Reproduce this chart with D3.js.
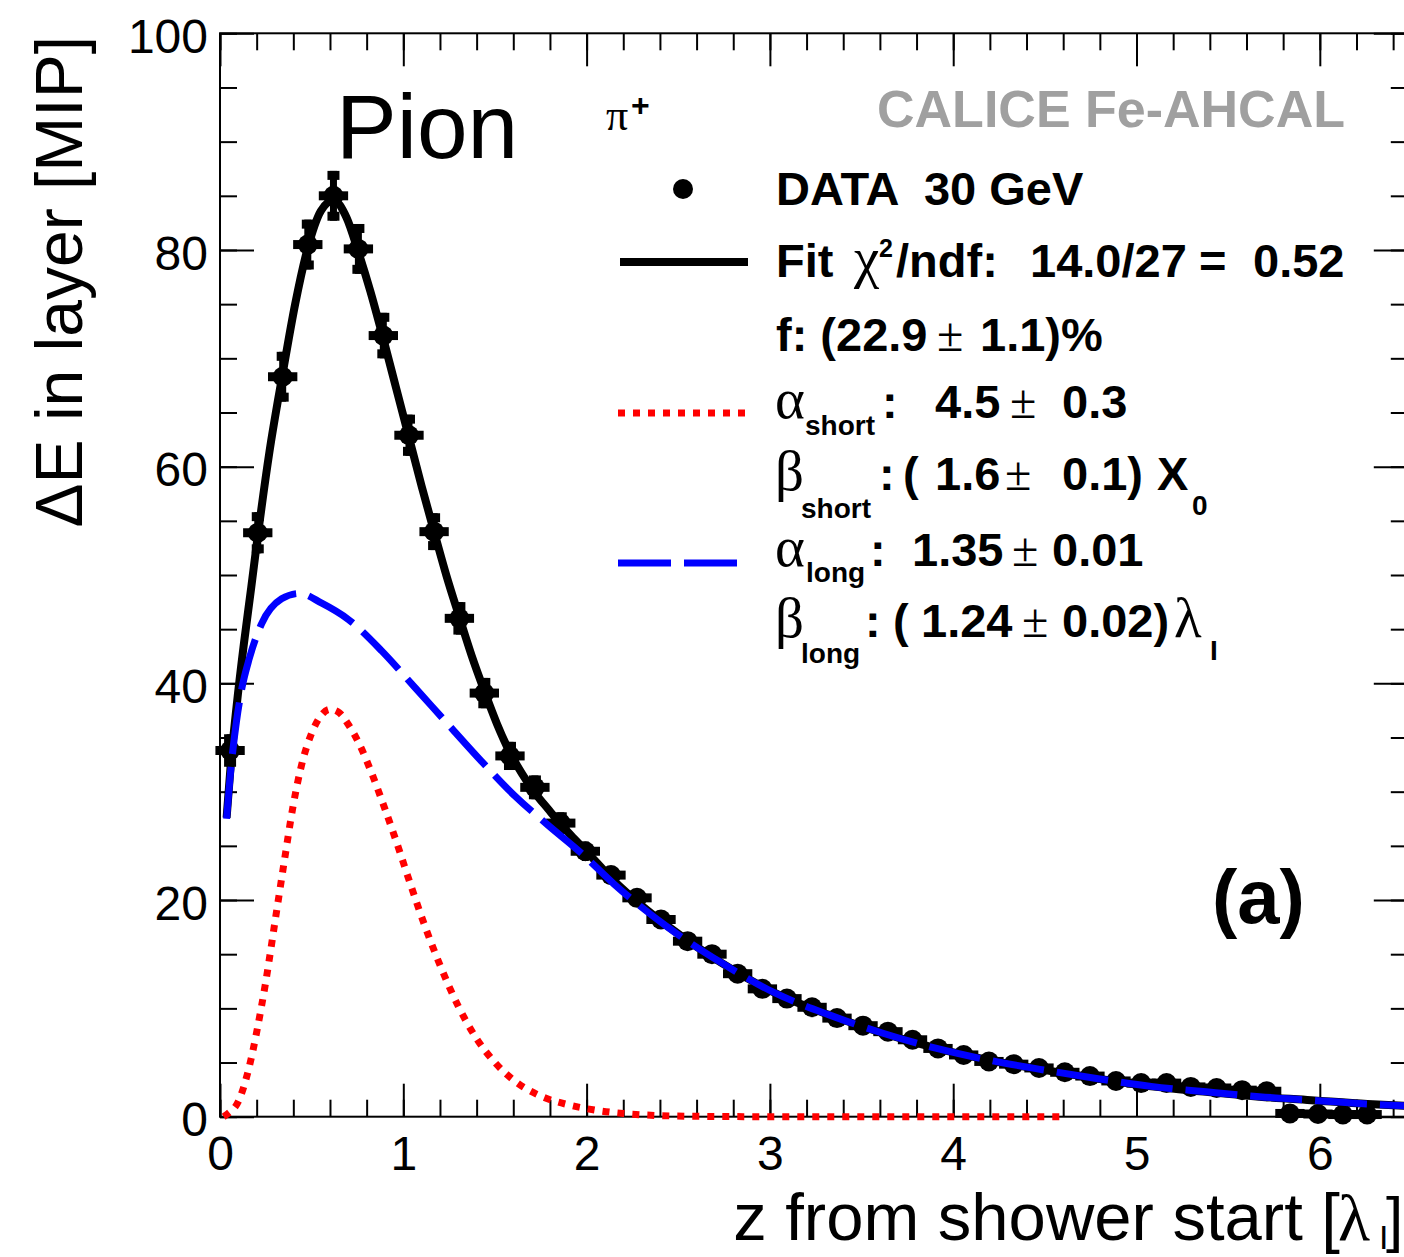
<!DOCTYPE html>
<html>
<head>
<meta charset="utf-8">
<script src="https://cdn.jsdelivr.net/npm/d3@7"></script>
<style>
  body { margin: 0; background: #fff; }
  text { white-space: pre; }
</style>
</head>
<body>
<svg id="chart"></svg>
<script>
// ---- data ----
// layer position from shower start [lambda_I] and energy per layer [MIP]
const layerZ = [0.055, 0.206, 0.342, 0.479, 0.619, 0.755, 0.891, 1.031, 1.168, 1.306,
  1.442, 1.582, 1.718, 1.859, 1.993, 2.133, 2.275, 2.406, 2.551, 2.684,
  2.824, 2.959, 3.093, 3.230, 3.366, 3.508, 3.644, 3.778, 3.917, 4.057,
  4.195, 4.330, 4.468, 4.609, 4.746, 4.888, 5.025, 5.164, 5.296, 5.437,
  5.576, 5.710, 5.837, 5.990, 6.126, 6.258];
const layerE = [33.8, 53.9, 68.3, 80.5, 85.0, 80.1, 72.1, 62.9, 54.0, 46.0,
  39.1, 33.3, 30.4, 27.1, 24.5, 22.3, 20.2, 18.2, 16.2, 15.0,
  13.2, 11.8, 10.9, 10.1, 9.1, 8.4, 7.85, 7.1, 6.3, 5.7,
  5.1, 4.85, 4.5, 4.1, 3.75, 3.3, 3.1, 3.1, 2.75, 2.65,
  2.45, 2.35, 0.3, 0.25, 0.2, 0.2];
const layerErr = [1.5, 1.9, 2.3, 2.3, 2.3, 2.3, 2.1, 1.9, 1.7, 1.5,
  1.4, 1.3, 1.1, 1.0, 0.9, 0.85, 0.8, 0.75, 0.7, 0.65,
  0.6, 0.55, 0.5, 0.5, 0.45, 0.45, 0.4, 0.4, 0.4, 0.35,
  0.35, 0.35, 0.3, 0.3, 0.3, 0.3, 0.3, 0.3, 0.3, 0.3,
  0.3, 0.3, 0.2, 0.2, 0.2, 0.2];
const zErr = 0.08;

// fit curves [z, dE]
const fitTotal = [[0.036, 27.6], [0.06, 32.8], [0.09, 37.8], [0.13, 43.6], [0.17, 48.8],
  [0.206, 53.6], [0.27, 61.4], [0.342, 68.6], [0.41, 75.0], [0.479, 80.2], [0.55, 83.6],
  [0.619, 84.6], [0.69, 83.0], [0.755, 79.8], [0.82, 76.2], [0.891, 71.8], [0.96, 67.3],
  [1.031, 62.7], [1.1, 58.2], [1.168, 54.0], [1.236, 49.9], [1.306, 46.1], [1.374, 42.5],
  [1.442, 39.3], [1.51, 36.3], [1.582, 33.6], [1.65, 31.6], [1.718, 29.9], [1.79, 28.4],
  [1.859, 27.0], [1.93, 25.7], [1.993, 24.6], [2.148, 21.8], [2.3, 19.5], [2.442, 17.6],
  [2.736, 14.2], [3.03, 11.4], [3.323, 9.4], [3.617, 7.7], [3.91, 6.3], [4.20, 5.2],
  [4.50, 4.3], [4.79, 3.5], [5.08, 2.8], [5.38, 2.3], [5.67, 1.85], [5.97, 1.5],
  [6.26, 1.17], [6.48, 1.0]];
const fitShort = [[0.02, 0], [0.045, 0.3], [0.1, 1.4], [0.155, 4.3], [0.2, 7.8], [0.25, 12.5],
  [0.3, 18], [0.35, 23.5], [0.4, 28.8], [0.45, 32.8], [0.5, 35.4], [0.55, 37.0], [0.6, 37.6],
  [0.65, 37.3], [0.7, 36.2], [0.76, 34.4], [0.83, 31.6], [0.9, 28.4], [0.97, 25.0],
  [1.04, 21.4], [1.12, 17.5], [1.2, 14.0], [1.3, 10.2], [1.4, 7.2], [1.5, 5.0], [1.6, 3.4],
  [1.75, 1.9], [1.9, 1.1], [2.05, 0.6], [2.2, 0.3], [2.4, 0.1], [2.7, 0.02], [3.0, 0], [4.62, 0]];
const fitLong = [[0.036, 27.5], [0.06, 32.2], [0.09, 36.5], [0.12, 39.6], [0.16, 42.3],
  [0.227, 45.5], [0.336, 47.8], [0.434, 48.3], [0.555, 47.4], [0.70, 45.9], [0.882, 43.0],
  [1.064, 39.6], [1.245, 36.2], [1.427, 32.8], [1.609, 29.6], [1.79, 26.9], [1.973, 24.3],
  [2.148, 21.5], [2.442, 17.5], [2.736, 14.2], [3.03, 11.4], [3.323, 9.4], [3.617, 7.7],
  [3.91, 6.3], [4.20, 5.2], [4.50, 4.3], [4.79, 3.5], [5.08, 2.8], [5.38, 2.3],
  [5.67, 1.85], [5.97, 1.5], [6.26, 1.17], [6.48, 1.0]];

const xTicks = [0, 1, 2, 3, 4, 5, 6];
const yTicks = [0, 20, 40, 60, 80, 100];
const xDomain = [0, 6.48];
const yDomain = [0, 100];

// ---- setup ----
const W = 1404, H = 1257;
const sans = '"Liberation Sans", Arial, Helvetica, sans-serif';
const serif = '"Liberation Serif", "Times New Roman", serif';

const svg = d3.select('#chart').attr('width', W).attr('height', H);
svg.append('rect').attr('width', W).attr('height', H).attr('fill', '#fff');

const x = d3.scaleLinear().domain(xDomain).range([220, 1407.8]);
const y = d3.scaleLinear().domain(yDomain).range([1116.7, 33.3]);

// ---- axes (ticks drawn inward, ROOT style) ----
function addAxis(axis, transform) {
    let g = svg.append('g').attr('transform', transform).call(axis);
    g.select('.domain').remove();
    g.selectAll('line').attr('stroke', '#000').attr('stroke-width', 2);
    g.attr('font-family', sans).attr('font-size', 48);
    g.selectAll('text').attr('fill', '#000');
    return g;
}

const xMinor = d3.range(0, xDomain[1], 0.2);
const yMinor = d3.range(0, 101, 5);

addAxis(d3.axisBottom(x).tickValues(xMinor).tickSize(-17).tickFormat(''), `translate(0,${y(0)})`);
addAxis(d3.axisBottom(x).tickValues(xTicks).tickSize(-33).tickPadding(19).tickFormat(d3.format('d')),
    `translate(0,${y(0)})`);
addAxis(d3.axisTop(x).tickValues(xMinor).tickSize(-17).tickFormat(''), `translate(0,${y(100)})`);
addAxis(d3.axisTop(x).tickValues(xTicks).tickSize(-33).tickFormat(''), `translate(0,${y(100)})`);

addAxis(d3.axisLeft(y).tickValues(yMinor).tickSize(-17).tickFormat(''), `translate(${x(0)},0)`);
addAxis(d3.axisLeft(y).tickValues(yTicks).tickSize(-34).tickPadding(12).tickFormat(d3.format('d')),
    `translate(${x(0)},0)`)
    .selectAll('text').attr('dy', '0.4em');
addAxis(d3.axisRight(y).tickValues(yMinor).tickSize(-17).tickFormat(''), `translate(${x(xDomain[1])},0)`);
addAxis(d3.axisRight(y).tickValues(yTicks).tickSize(-34).tickFormat(''), `translate(${x(xDomain[1])},0)`);

// frame
svg.append('rect')
    .attr('x', x(0)).attr('y', y(100))
    .attr('width', x(xDomain[1]) - x(0)).attr('height', y(0) - y(100))
    .attr('fill', 'none').attr('stroke', '#000').attr('stroke-width', 2);

// ---- data points with error bars ----
const points = layerZ.map((z, i) => ({ z: z, e: layerE[i], err: layerErr[i] }));

const pts = svg.append('g').selectAll('g').data(points).join('g');
pts.append('line')
    .attr('x1', d => x(d.z - zErr)).attr('x2', d => x(d.z + zErr))
    .attr('y1', d => y(d.e)).attr('y2', d => y(d.e))
    .attr('stroke', '#000').attr('stroke-width', 9);
pts.append('line')
    .attr('x1', d => x(d.z)).attr('x2', d => x(d.z))
    .attr('y1', d => y(d.e - d.err)).attr('y2', d => y(d.e + d.err))
    .attr('stroke', '#000').attr('stroke-width', 7);
pts.filter(d => y(d.e - d.err) - y(d.e) > 10).each(function (d) {
    let g = d3.select(this);
    g.append('rect').attr('x', x(d.z) - 6).attr('y', y(d.e + d.err)).attr('width', 12).attr('height', 9);
    g.append('rect').attr('x', x(d.z) - 6).attr('y', y(d.e - d.err) - 9).attr('width', 12).attr('height', 9);
});
pts.append('circle')
    .attr('cx', d => x(d.z)).attr('cy', d => y(d.e)).attr('r', 10).attr('fill', '#000');

// ---- fit curves ----
const line = d3.line().x(d => x(d[0])).y(d => y(d[1])).curve(d3.curveMonotoneX);

svg.append('path').datum(fitTotal).attr('d', line)
    .attr('fill', 'none').attr('stroke', '#000').attr('stroke-width', 8);
svg.append('path').datum(fitShort).attr('d', line)
    .attr('fill', 'none').attr('stroke', '#ff0000').attr('stroke-width', 7)
    .attr('stroke-dasharray', '7 8');
svg.append('path').datum(fitLong).attr('d', line)
    .attr('fill', 'none').attr('stroke', '#0000ff').attr('stroke-width', 7)
    .attr('stroke-dasharray', '52 13');

// ---- axis titles ----
function label(t, px, py, size, opts = {}) {
    return svg.append('text')
        .attr('x', px).attr('y', py)
        .attr('font-size', size)
        .attr('font-family', opts.serif ? serif : sans)
        .attr('font-weight', opts.bold ? 'bold' : 'normal')
        .attr('text-anchor', opts.anchor || 'start')
        .attr('fill', opts.fill || '#000')
        .text(t);
}

svg.append('text')
    .attr('transform', 'translate(82,36) rotate(-90)')
    .attr('text-anchor', 'end')
    .attr('font-family', sans).attr('font-size', 66)
    .text('ΔE in layer [MIP]');

label('z from shower start [', 1340, 1240, 67, { anchor: 'end' });
label('λ', 1338, 1240, 66, { serif: true });
label('I', 1379, 1249, 34);
label(']', 1386, 1240, 62);

// ---- annotations ----
label('Pion', 336, 158, 91);
label('π', 606, 130, 44, { serif: true });
label('+', 631, 116, 32, { bold: true });
label('CALICE Fe-AHCAL', 1345, 127, 52, { bold: true, anchor: 'end', fill: '#a0a0a0' });
label('(a)', 1212, 923, 76, { bold: true });

// ---- legend ----
svg.append('circle').attr('cx', 683).attr('cy', 189).attr('r', 10).attr('fill', '#000');
svg.append('line').attr('x1', 620).attr('x2', 748).attr('y1', 262).attr('y2', 262)
    .attr('stroke', '#000').attr('stroke-width', 8);
svg.append('line').attr('x1', 618).attr('x2', 748).attr('y1', 413).attr('y2', 413)
    .attr('stroke', '#ff0000').attr('stroke-width', 7).attr('stroke-dasharray', '7 8');
svg.append('line').attr('x1', 618).attr('x2', 748).attr('y1', 563).attr('y2', 563)
    .attr('stroke', '#0000ff').attr('stroke-width', 7).attr('stroke-dasharray', '53 13');

const L = 47, G = 57, PM = 48, S = 28;
const B = { bold: true }, R = { serif: true };
const legendText = [
    ['DATA  30 GeV', 776, 205, L, B],
    ['Fit', 776, 277, L, B], ['χ', 854, 277, G, R], ['2', 879, 257, 25, B],
    ['/ndf:', 896, 277, L, B], ['14.0/27', 1030, 277, L, B], ['=', 1199, 277, L, B],
    ['0.52', 1253, 277, L, B],
    ['f: (22.9', 776, 351, L, B], ['±', 937, 351, PM, R], ['1.1)%', 980, 351, L, B],
    ['α', 775, 418, G, R], ['short', 805, 435, S, B], [':', 882, 418, L, B],
    ['4.5', 935, 418, L, B], ['±', 1010, 418, PM, R], ['0.3', 1062, 418, L, B],
    ['β', 775, 490, G, R], ['short', 801, 518, S, B], [':', 879, 490, L, B],
    ['(', 903, 490, L, B], ['1.6', 935, 490, L, B], ['±', 1005, 490, PM, R],
    ['0.1)', 1062, 490, L, B], ['X', 1157, 490, L, B], ['0', 1192, 515, S, B],
    ['α', 775, 566, G, R], ['long', 806, 582, S, B], [':', 870, 566, L, B],
    ['1.35', 912, 566, L, B], ['±', 1012, 566, PM, R], ['0.01', 1052, 566, L, B],
    ['β', 775, 637, G, R], ['long', 801, 663, S, B], [':', 865, 637, L, B],
    ['(', 893, 637, L, B], ['1.24', 921, 637, L, B], ['±', 1022, 637, PM, R],
    ['0.02)', 1062, 637, L, B], ['λ', 1174, 637, G, R], ['I', 1210, 660, S, B]
];
legendText.forEach(([t, px, py, size, opts]) => label(t, px, py, size, opts));
</script>
</body>
</html>
